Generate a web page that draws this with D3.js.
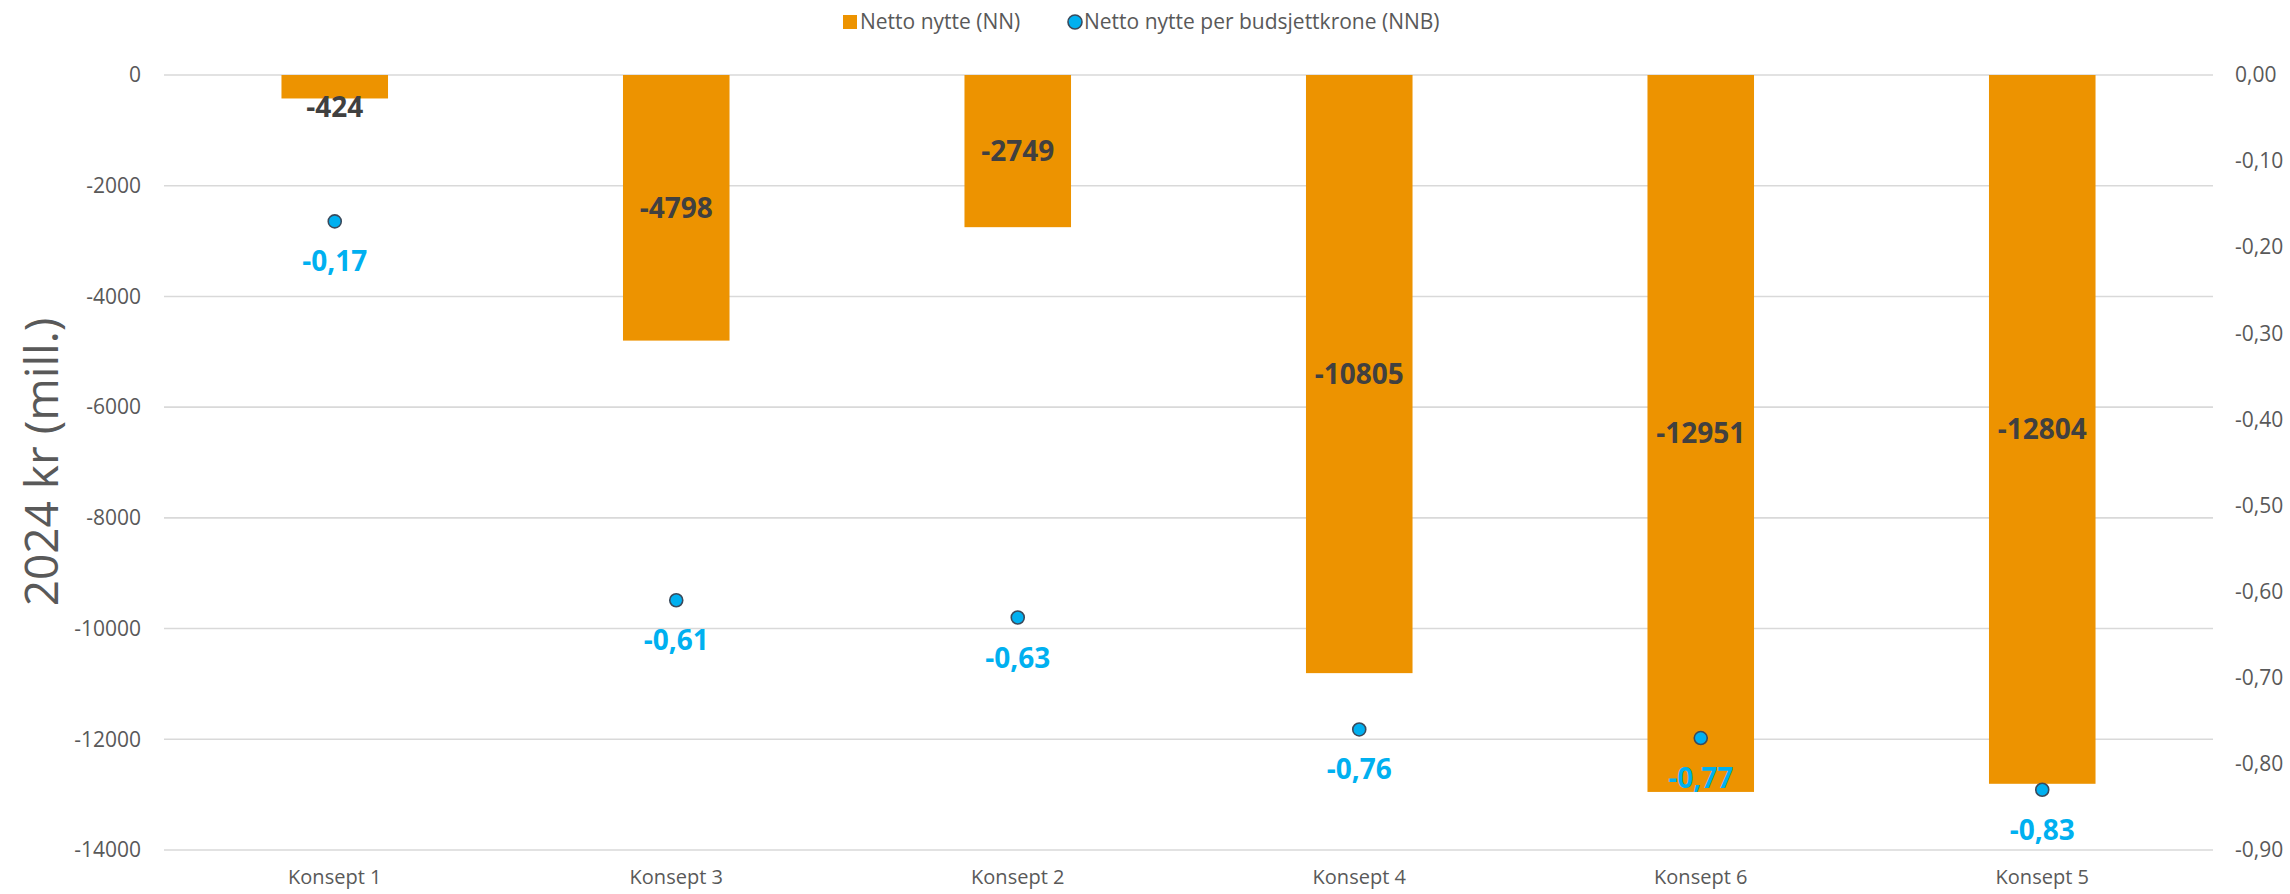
<!DOCTYPE html>
<html>
<head>
<meta charset="utf-8">
<script src="https://cdn.jsdelivr.net/npm/d3@7"></script>
<style>
  html, body { margin: 0; padding: 0; background: #ffffff; }
  svg { display: block; }
  text { font-family: "Open Sans", "Noto Sans", sans-serif; }
</style>
</head>
<body>
<svg id="chart" width="2290" height="894"></svg>
<script>
// Konsepter i rekkefølge
const categories = ["Konsept 1", "Konsept 3", "Konsept 2", "Konsept 4", "Konsept 6", "Konsept 5"];
// Netto nytte (NN), mill. 2024-kr
const nnValues = [-424, -4798, -2749, -10805, -12951, -12804];
// Netto nytte per budsjettkrone (NNB)
const nnbValues = [-0.17, -0.61, -0.63, -0.76, -0.77, -0.83];
// Aksemerker
const leftTicks = [0, -2000, -4000, -6000, -8000, -10000, -12000, -14000];
const rightTicks = [0, -0.1, -0.2, -0.3, -0.4, -0.5, -0.6, -0.7, -0.8, -0.9];
const seriesNames = ["Netto nytte (NN)", "Netto nytte per budsjettkrone (NNB)"];

const W = 2290, H = 894;
const plot = { left: 164, right: 2213, top: 75, bottom: 850 };
const barColor = "#ED9300";
const dotColor = "#00B0F0";
const dotStroke = "#3A4A5C";
const gridColor = "#D9D9D9";
const tickColor = "#595959";

const svg = d3.select("#chart");

const nb = d3.formatLocale({ decimal: ",", thousands: "", grouping: [3], currency: ["", ""], minus: "-" });
const fmt2 = nb.format(".2f");
const fmt0 = nb.format("d");

const x = d3.scaleBand()
  .domain(categories)
  .range([plot.left, plot.right])
  .paddingInner(0.688)
  .paddingOuter(0.344);

const yL = d3.scaleLinear().domain([0, -14000]).range([plot.top, plot.bottom]);
const yR = d3.scaleLinear().domain([0, -0.9]).range([plot.top, plot.bottom]);

// Rutenett (venstre akse)
svg.append("g")
  .selectAll("line")
  .data(leftTicks)
  .join("line")
  .attr("x1", plot.left).attr("x2", plot.right)
  .attr("y1", d => yL(d)).attr("y2", d => yL(d))
  .attr("stroke", gridColor).attr("stroke-width", 1.6);

// Venstre akse
const axL = svg.append("g")
  .attr("transform", `translate(${plot.left},0)`)
  .call(d3.axisLeft(yL).tickValues(leftTicks).tickFormat(fmt0).tickSize(0).tickPadding(23));
axL.select(".domain").remove();
axL.selectAll("text")
  .attr("fill", tickColor)
  .style("font-size", "21px")
  .style("font-family", "'Open Sans', sans-serif");

// Høyre akse
const axR = svg.append("g")
  .attr("transform", `translate(${plot.right},0)`)
  .call(d3.axisRight(yR).tickValues(rightTicks).tickFormat(fmt2).tickSize(0).tickPadding(22));
axR.select(".domain").remove();
axR.selectAll("text")
  .attr("fill", tickColor)
  .style("font-size", "21px")
  .style("font-family", "'Open Sans', sans-serif");

// Kategoriakse
const axB = svg.append("g")
  .attr("transform", `translate(0,${plot.bottom})`)
  .call(d3.axisBottom(x).tickSize(0).tickPadding(20));
axB.select(".domain").remove();
axB.selectAll("text")
  .attr("fill", tickColor)
  .style("font-size", "20px")
  .style("font-family", "'Open Sans', sans-serif");

// Y-aksetittel
svg.append("text")
  .attr("transform", `translate(58,462) rotate(-90)`)
  .attr("text-anchor", "middle")
  .attr("fill", tickColor)
  .style("font-size", "46px")
  .style("font-weight", 400)
  .text("2024 kr (mill.)");

// Søyler
const rows = categories.map((c, i) => ({ cat: c, nn: nnValues[i], nnb: nnbValues[i] }));

svg.append("g")
  .selectAll("rect")
  .data(rows)
  .join("rect")
  .attr("x", d => x(d.cat))
  .attr("width", x.bandwidth())
  .attr("y", d => yL(0))
  .attr("height", d => yL(d.nn) - yL(0))
  .attr("fill", barColor);

// Verdietiketter på søylene
svg.append("g")
  .selectAll("text")
  .data(rows)
  .join("text")
  .attr("x", d => x(d.cat) + x.bandwidth() / 2)
  .attr("y", d => {
    const h = yL(d.nn) - yL(0);
    const cy = h < 40 ? yL(d.nn) + 9 : (yL(0) + yL(d.nn)) / 2;
    return cy + 10;
  })
  .attr("text-anchor", "middle")
  .attr("fill", "#404040")
  .style("font-size", "28px")
  .style("font-weight", 700)
  .text(d => fmt0(d.nn));

// NNB-punkter
svg.append("g")
  .selectAll("circle")
  .data(rows)
  .join("circle")
  .attr("cx", d => x(d.cat) + x.bandwidth() / 2)
  .attr("cy", d => yR(d.nnb))
  .attr("r", 6.5)
  .attr("fill", dotColor)
  .attr("stroke", dotStroke)
  .attr("stroke-width", 1.6);

svg.append("g")
  .selectAll("text")
  .data(rows)
  .join("text")
  .attr("x", d => x(d.cat) + x.bandwidth() / 2)
  .attr("y", d => yR(d.nnb) + 50)
  .attr("text-anchor", "middle")
  .attr("fill", dotColor)
  .style("font-size", "28px")
  .style("font-weight", 700)
  .text(d => fmt2(d.nnb));

// Tegnforklaring
const leg = svg.append("g");
leg.append("rect")
  .attr("x", 843).attr("y", 15).attr("width", 14).attr("height", 14)
  .attr("fill", barColor);
leg.append("text")
  .attr("x", 860).attr("y", 29)
  .attr("fill", tickColor)
  .style("font-size", "21px")
  .text(seriesNames[0]);
leg.append("circle")
  .attr("cx", 1075).attr("cy", 22).attr("r", 7)
  .attr("fill", dotColor).attr("stroke", dotStroke).attr("stroke-width", 1.6);
leg.append("text")
  .attr("x", 1084).attr("y", 29)
  .attr("fill", tickColor)
  .style("font-size", "21px")
  .text(seriesNames[1]);
</script>
</body>
</html>
